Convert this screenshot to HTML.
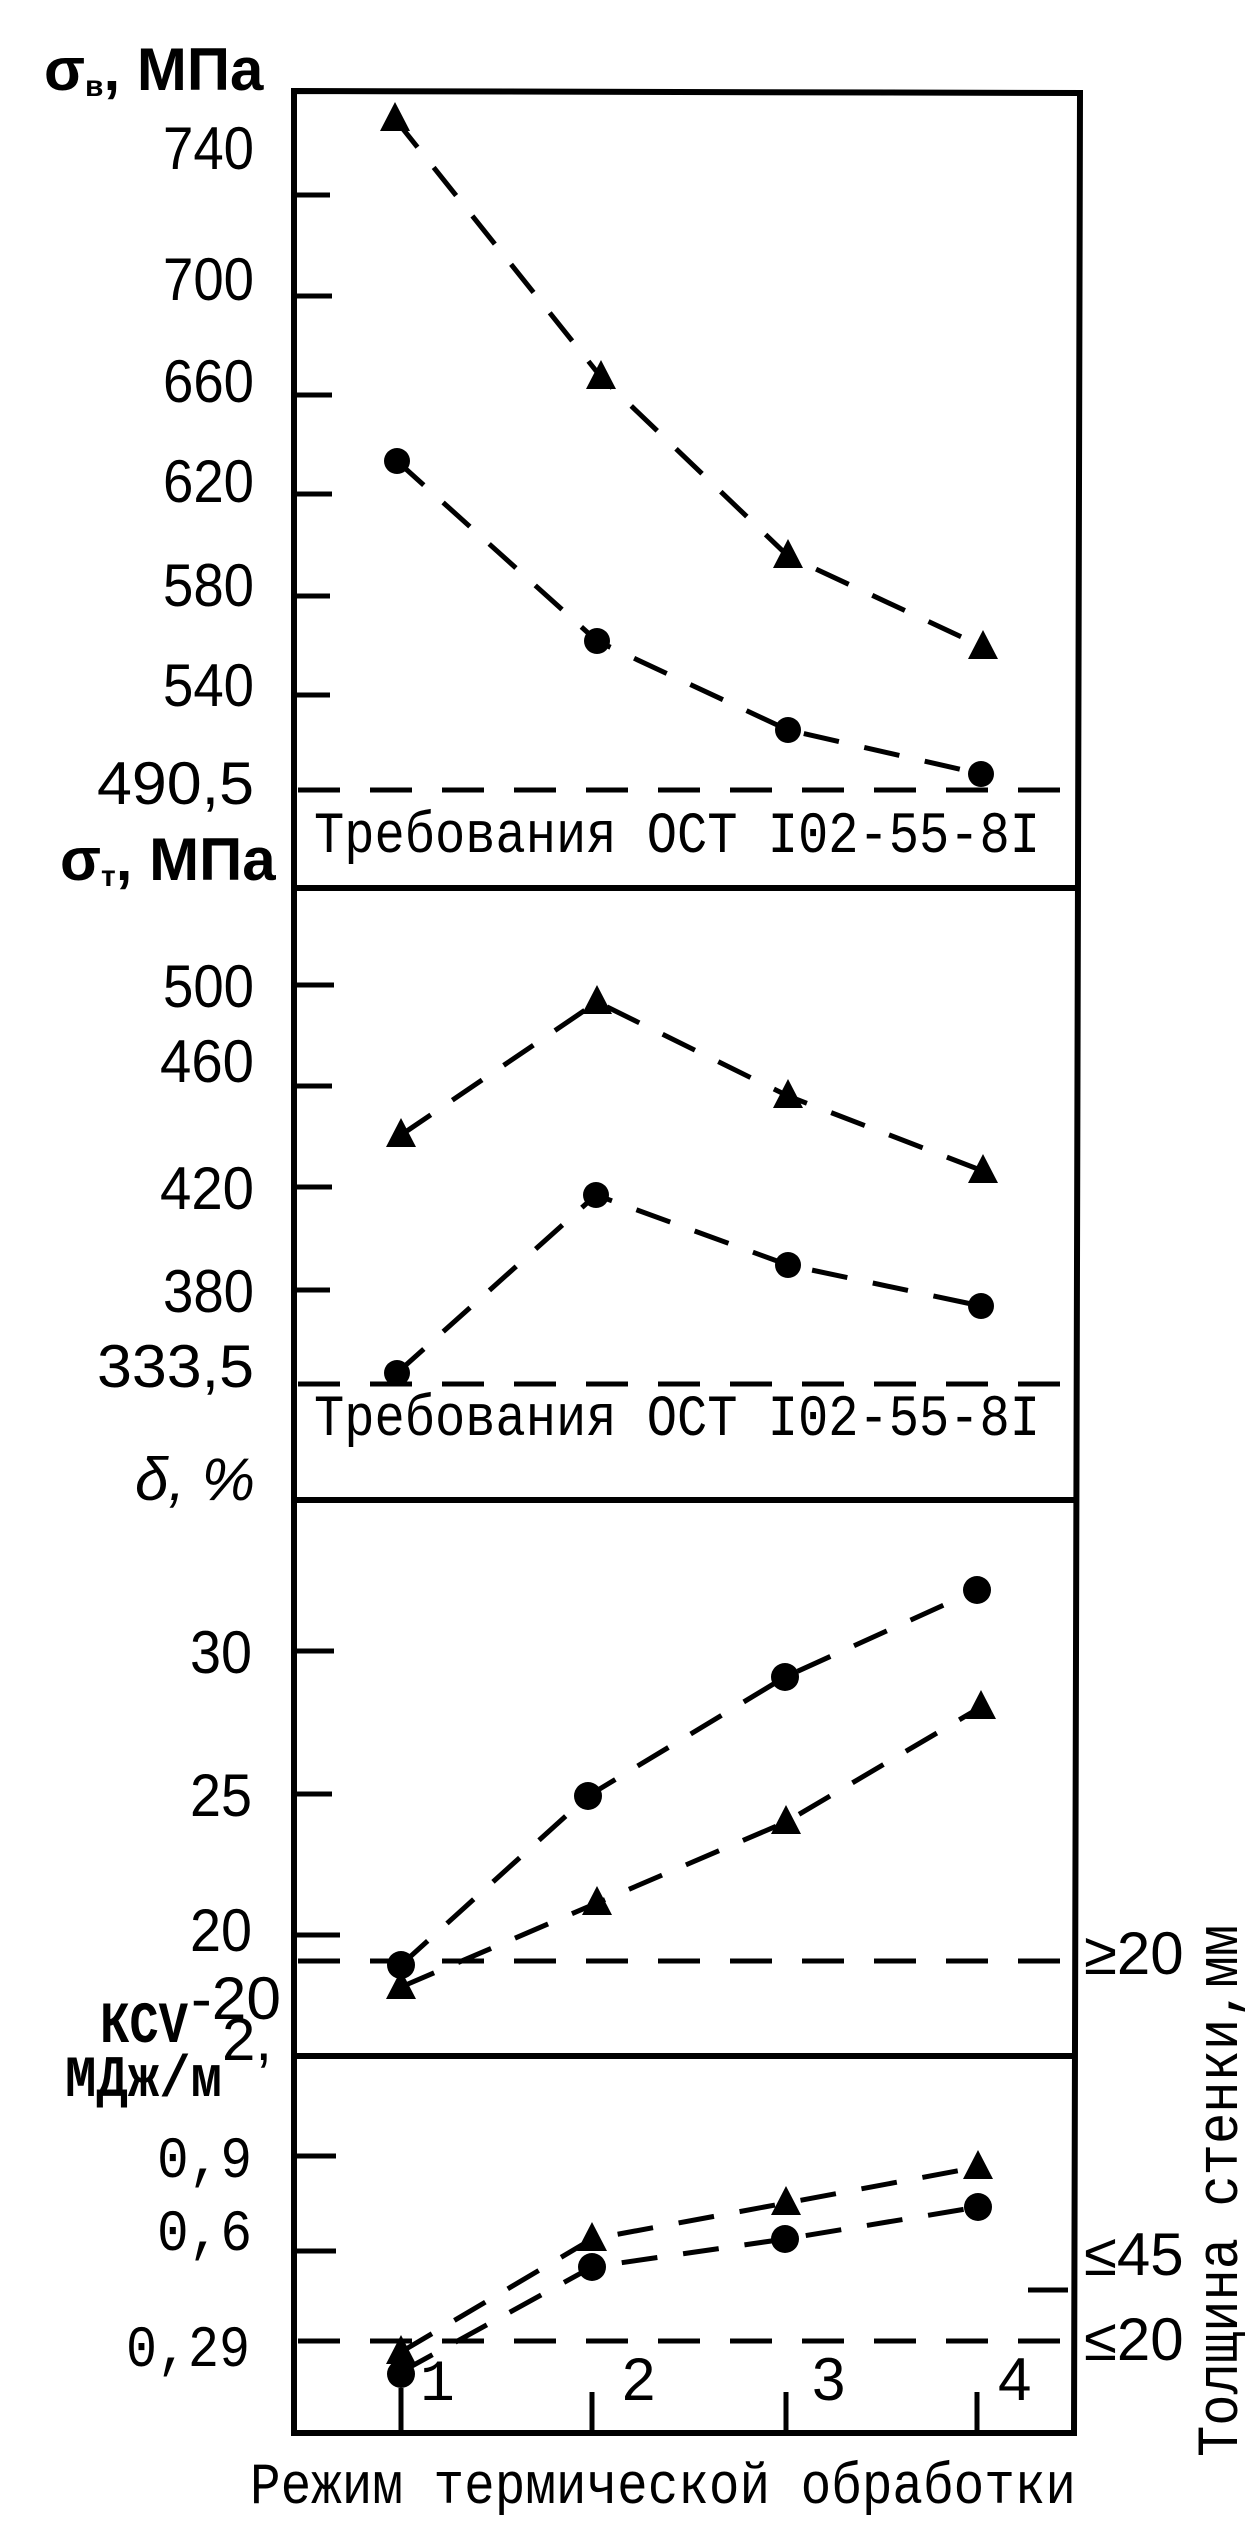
<!DOCTYPE html>
<html><head><meta charset="utf-8"><style>
html,body{margin:0;padding:0;background:#fff;}
svg{display:block;}
.t{font-family:"Liberation Sans",sans-serif;font-size:60px;fill:#000;}
.m{font-family:"Liberation Mono",monospace;font-size:58px;fill:#000;}
</style></head><body>
<svg width="1245" height="2535" viewBox="0 0 1245 2535" xmlns="http://www.w3.org/2000/svg">
<defs>
<path id="tri" d="M0,-17 L15,12 L-15,12 Z"/>
</defs>
<g stroke="#000" fill="none" stroke-width="6">
<path d="M294,91 L1080,93 L1074,2433 L294,2433 Z"/>
<line x1="294" y1="888" x2="1078" y2="888"/>
<line x1="294" y1="1500" x2="1076" y2="1500"/>
<line x1="294" y1="2056" x2="1074" y2="2056"/>
</g>
<g stroke="#000" stroke-width="5">
<line x1="294" y1="195" x2="330" y2="195"/><line x1="294" y1="296" x2="332" y2="296"/>
<line x1="294" y1="395" x2="332" y2="395"/><line x1="294" y1="494" x2="332" y2="494"/>
<line x1="294" y1="596" x2="330" y2="596"/><line x1="294" y1="695" x2="330" y2="695"/>
<line x1="294" y1="985" x2="334" y2="985"/><line x1="294" y1="1086" x2="332" y2="1086"/>
<line x1="294" y1="1187" x2="332" y2="1187"/><line x1="294" y1="1290" x2="330" y2="1290"/>
<line x1="294" y1="1651" x2="334" y2="1651"/><line x1="294" y1="1794" x2="332" y2="1794"/>
<line x1="294" y1="1935" x2="340" y2="1935"/>
<line x1="294" y1="2156" x2="336" y2="2156"/><line x1="294" y1="2251" x2="336" y2="2251"/>
<line x1="1028" y1="2290" x2="1068" y2="2290"/>
<line x1="401" y1="2388" x2="401" y2="2433"/><line x1="592" y1="2392" x2="592" y2="2433"/>
<line x1="786" y1="2392" x2="786" y2="2433"/><line x1="977" y1="2392" x2="977" y2="2433"/>
</g>
<g stroke="#000" stroke-width="5" fill="none" stroke-dasharray="42,30">
<line x1="298" y1="790" x2="1078" y2="790"/>
<line x1="298" y1="1384" x2="1076" y2="1384"/>
<line x1="298" y1="1961" x2="1074" y2="1961"/>
<line x1="298" y1="2341" x2="1072" y2="2341"/>
</g>
<g stroke="#000" stroke-width="5" fill="none" stroke-dasharray="36,26">
<polyline points="395,119 601,377 788,556 983,647"/>
<polyline points="397,461 597,641 788,730 981,774"/>
<polyline points="401,1135 597,1002 788,1096 983,1171"/>
<polyline points="397,1373 596,1195 788,1265 981,1306"/>
<polyline points="401,1965 588,1796 785,1677 977,1590"/>
<polyline points="401,1987 597,1903 786,1822 981,1707"/>
<polyline points="401,2352 592,2239 786,2203 978,2167"/>
<polyline points="401,2372 592,2267 785,2239 978,2207"/>
</g>
<g fill="#000">
<use href="#tri" x="395" y="119"/><use href="#tri" x="601" y="377"/><use href="#tri" x="788" y="556"/><use href="#tri" x="983" y="647"/>
<circle cx="397" cy="461" r="13"/><circle cx="597" cy="641" r="13"/><circle cx="788" cy="730" r="13"/><circle cx="981" cy="774" r="13"/>
<use href="#tri" x="401" y="1135"/><use href="#tri" x="597" y="1002"/><use href="#tri" x="788" y="1096"/><use href="#tri" x="983" y="1171"/>
<circle cx="397" cy="1373" r="13"/><circle cx="596" cy="1195" r="13"/><circle cx="788" cy="1265" r="13"/><circle cx="981" cy="1306" r="13"/>
<circle cx="401" cy="1965" r="14"/><circle cx="588" cy="1796" r="14"/><circle cx="785" cy="1677" r="14"/><circle cx="977" cy="1590" r="14"/>
<use href="#tri" x="401" y="1987"/><use href="#tri" x="597" y="1903"/><use href="#tri" x="786" y="1822"/><use href="#tri" x="981" y="1707"/>
<use href="#tri" x="401" y="2352"/><use href="#tri" x="592" y="2239"/><use href="#tri" x="786" y="2203"/><use href="#tri" x="978" y="2167"/>
<circle cx="401" cy="2374" r="14"/><circle cx="592" cy="2267" r="14"/><circle cx="785" cy="2239" r="14"/><circle cx="978" cy="2207" r="14"/>
</g>
<g class="t">
<text x="163" y="169" textLength="91" lengthAdjust="spacingAndGlyphs">740</text>
<text x="163" y="300" textLength="91" lengthAdjust="spacingAndGlyphs">700</text>
<text x="163" y="402" textLength="91" lengthAdjust="spacingAndGlyphs">660</text>
<text x="163" y="502" textLength="91" lengthAdjust="spacingAndGlyphs">620</text>
<text x="163" y="606" textLength="91" lengthAdjust="spacingAndGlyphs">580</text>
<text x="163" y="706" textLength="91" lengthAdjust="spacingAndGlyphs">540</text>
<text x="97" y="804" textLength="157" lengthAdjust="spacingAndGlyphs">490,5</text>
<text x="163" y="1007" textLength="91" lengthAdjust="spacingAndGlyphs">500</text>
<text x="160" y="1082" textLength="94" lengthAdjust="spacingAndGlyphs">460</text>
<text x="160" y="1209" textLength="94" lengthAdjust="spacingAndGlyphs">420</text>
<text x="163" y="1312" textLength="91" lengthAdjust="spacingAndGlyphs">380</text>
<text x="97" y="1387" textLength="157" lengthAdjust="spacingAndGlyphs">333,5</text>
<text x="190" y="1673" textLength="62" lengthAdjust="spacingAndGlyphs">30</text>
<text x="190" y="1816" textLength="62" lengthAdjust="spacingAndGlyphs">25</text>
<text x="190" y="1951" textLength="62" lengthAdjust="spacingAndGlyphs">20</text>
</g>
<g class="m" font-size="66">
<text x="157" y="2177" textLength="95" lengthAdjust="spacingAndGlyphs">0,9</text>
<text x="157" y="2250" textLength="95" lengthAdjust="spacingAndGlyphs">0,6</text>
<text x="126" y="2366" textLength="124" lengthAdjust="spacingAndGlyphs">0,29</text>
</g>
<text class="t" x="44" y="90" font-weight="bold">σ<tspan font-size="30" dy="6">в</tspan><tspan dy="-6">,  МПа</tspan></text>
<text class="t" x="60" y="880" font-weight="bold">σ<tspan font-size="30" dy="6">т</tspan><tspan dy="-6">, МПа</tspan></text>
<text class="t" x="135" y="1500" font-style="italic">δ, %</text>
<text class="m" x="314" y="852" textLength="726" lengthAdjust="spacingAndGlyphs">Требования ОСТ I02-55-8I</text>
<text class="m" x="314" y="1435" textLength="726" lengthAdjust="spacingAndGlyphs">Требования ОСТ I02-55-8I</text>
<text class="m" x="100" y="2042" font-size="50" textLength="88" lengthAdjust="spacingAndGlyphs" font-weight="bold">КСV</text>
<text class="t" x="191" y="2019" font-size="58" textLength="90" lengthAdjust="spacingAndGlyphs">-20</text>
<text class="m" x="65" y="2096" font-size="48" textLength="157" lengthAdjust="spacingAndGlyphs" font-weight="bold">МДж/м</text>
<text class="t" x="222" y="2060" font-size="58">2,</text>
<text class="t" x="1084" y="1974" font-size="54">≥20</text>
<text class="t" x="1084" y="2275" font-size="54">≤45</text>
<text class="t" x="1084" y="2360" font-size="54">≤20</text>
<text class="m" x="420" y="2400" font-size="54">1</text>
<text class="t" x="622" y="2400" font-size="54">2</text>
<text class="t" x="812" y="2400" font-size="54">3</text>
<text class="t" x="998" y="2400" font-size="54">4</text>
<text class="m" x="250" y="2503" textLength="826" lengthAdjust="spacingAndGlyphs">Режим термической обработки</text>
<text class="m" transform="translate(1237,2457) rotate(-90)" textLength="532" lengthAdjust="spacingAndGlyphs">Толщина стенки,мм</text>
</svg>
</body></html>
